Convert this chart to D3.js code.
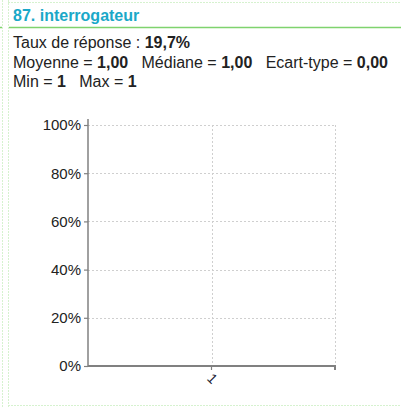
<!DOCTYPE html>
<html><head><meta charset="utf-8">
<script src="https://cdn.jsdelivr.net/npm/d3@7"></script>
<style>
html,body{margin:0;padding:0;background:#fff;}
svg{display:block;font-family:"Liberation Sans",Arial,sans-serif;}
</style></head>
<body><svg id="c" width="401" height="407"></svg>
<script>
const title = "87. interrogateur";
const categories = ["1"];
const values = [0];
const yTicks = [0, 0.2, 0.4, 0.6, 0.8, 1.0];
const statLines = [
  [["Taux de réponse : ", false], ["19,7%", true]],
  [["Moyenne = ", false], ["1,00", true], ["   Médiane = ", false], ["1,00", true], ["   Ecart-type = ", false], ["0,00", true]],
  [["Min = ", false], ["1", true], ["   Max = ", false], ["1", true]]
];

const svg = d3.select("#c");
const green = "#7fd36e", lightGreen = "#d6f2cf";

// panel borders
svg.append("line").attr("x1",2.5).attr("x2",2.5).attr("y1",0).attr("y2",407)
  .attr("stroke",lightGreen).attr("stroke-width",1).attr("stroke-dasharray","2,1");
svg.append("line").attr("x1",8.5).attr("x2",8.5).attr("y1",0).attr("y2",407)
  .attr("stroke",lightGreen).attr("stroke-width",1).attr("stroke-dasharray","2,1");
svg.append("line").attr("x1",8).attr("x2",401).attr("y1",2.5).attr("y2",2.5)
  .attr("stroke",lightGreen).attr("stroke-width",1).attr("stroke-dasharray","2,1");
svg.append("line").attr("x1",8).attr("x2",401).attr("y1",405.5).attr("y2",405.5)
  .attr("stroke",lightGreen).attr("stroke-width",1).attr("stroke-dasharray","2,1");
svg.append("line").attr("x1",0).attr("x2",2).attr("y1",27.5).attr("y2",27.5)
  .attr("stroke",green).attr("stroke-width",1.5);
svg.append("line").attr("x1",9).attr("x2",401).attr("y1",27.5).attr("y2",27.5)
  .attr("stroke",green).attr("stroke-width",1.5);

// title
svg.append("text").attr("x",13).attr("y",21).attr("fill","#1aa8c8")
  .attr("font-size",16).attr("font-weight","bold").text(title);

// stats
statLines.forEach((line,i)=>{
  const t = svg.append("text").attr("x",13).attr("y",48+i*19.5)
    .attr("font-size",16).attr("fill","#222").attr("xml:space","preserve")
    .style("white-space","pre");
  line.forEach(([s,b])=>t.append("tspan").attr("font-weight",b?"bold":"normal").text(s));
});

// chart
const x0=88, x1=335, yTop=125, yBot=366;
const x = d3.scaleBand().domain(categories).range([x0,x1]);
const y = d3.scaleLinear().domain([0,1]).range([yBot,yTop]);

const g = svg.append("g");
// horizontal gridlines
g.selectAll(".hg").data(yTicks.filter(d=>d>0)).join("line")
  .attr("x1",x0).attr("x2",x1).attr("y1",d=>Math.round(y(d))+0.5).attr("y2",d=>Math.round(y(d))+0.5)
  .attr("stroke","#cfcfcf").attr("stroke-dasharray","2,2");
// vertical gridlines
const vg = categories.map(c=>x(c)+x.bandwidth()/2).concat([x1]);
g.selectAll(".vg").data(vg).join("line")
  .attr("x1",d=>Math.round(d)+0.5).attr("x2",d=>Math.round(d)+0.5).attr("y1",yTop).attr("y2",yBot)
  .attr("stroke","#cfcfcf").attr("stroke-dasharray","2,2");

// bars (values)
g.selectAll(".bar").data(values).join("rect")
  .attr("x",(d,i)=>x(categories[i])+x.bandwidth()*0.25).attr("width",x.bandwidth()*0.5)
  .attr("y",d=>y(d)).attr("height",d=>yBot-y(d)).attr("fill","#4f81bd");

// y axis
const ya = g.append("g").attr("transform",`translate(${x0},0)`)
  .call(d3.axisLeft(y).tickValues(yTicks).tickFormat(d=>Math.round(d*100)+"%").tickSize(4).tickPadding(3));
ya.select(".domain").attr("stroke","#808080").attr("stroke-width",1.5).attr("d",`M0,${yTop-6}V${yBot}`);
ya.selectAll(".tick line").attr("stroke","#808080").attr("stroke-width",1.2);
ya.selectAll(".tick text").attr("font-size",15).attr("fill","#222").attr("font-family","Liberation Sans, Arial, sans-serif");

// x axis
const xa = g.append("g").attr("transform",`translate(0,${yBot})`)
  .call(d3.axisBottom(x).tickSize(4).tickPadding(6));
xa.select(".domain").attr("stroke","#808080").attr("stroke-width",2).attr("d",`M${x0},0H${x1}V4`);
xa.selectAll(".tick line").attr("stroke","#808080").attr("stroke-width",1.2);
xa.selectAll(".tick text").attr("font-size",14).attr("fill","#223")
  .attr("font-family","Liberation Sans, Arial, sans-serif")
  .attr("y",0).attr("dy","0.35em").attr("text-anchor","middle")
  .attr("transform","translate(1,12.5) rotate(45)");
</script></body></html>
